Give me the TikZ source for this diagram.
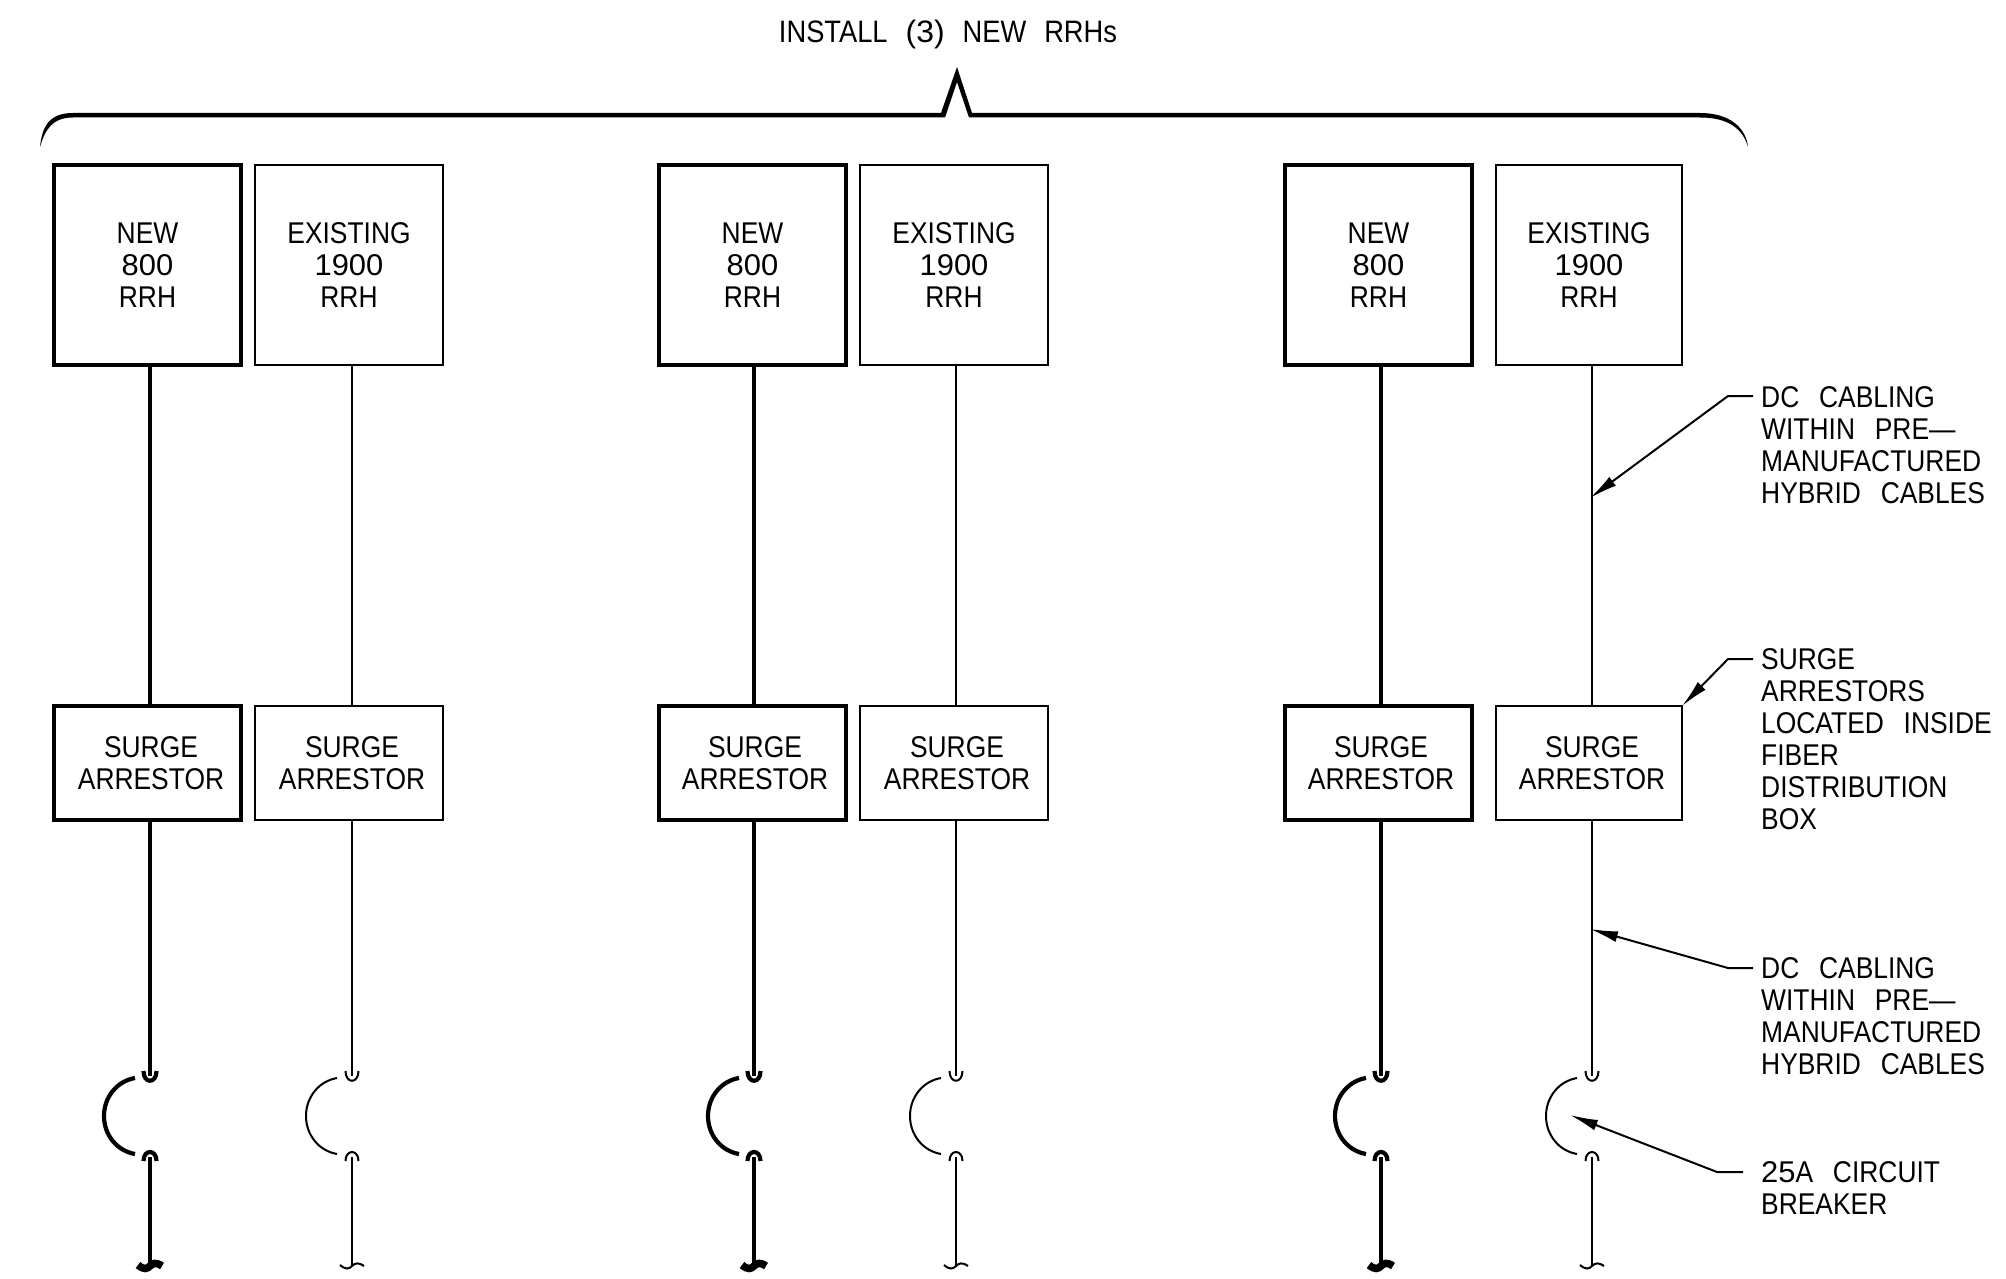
\documentclass[tikz,border=0pt]{standalone}
\usepackage{fontspec}
\setmainfont[FakeStretch=0.88,WordSpace=2.7]{Liberation Sans}
\newfontfamily\digs[FakeStretch=1.03,WordSpace=2.7]{Liberation Sans}
\usetikzlibrary{arrows.meta}
\tikzset{
  thinw/.style={line width=2pt},
  thickw/.style={line width=4.2pt},
  thinwbrk/.style={line width=2pt},
  thickwbrk/.style={line width=7.5pt},
  rrhbox/.style={draw,rectangle,outer sep=0pt,inner sep=0pt,minimum height=200pt,align=center},
  surgebox/.style={draw,rectangle,outer sep=0pt,inner sep=0pt,minimum height=114pt},
  boxtext/.style={align=center,inner sep=0pt,font=\fontsize{30}{32}\selectfont},
  note/.style={anchor=west,align=left,inner sep=0pt,font=\fontsize{30}{32}\selectfont},
  leader/.style={line width=2pt,-{Latex[length=28pt,width=11pt]}},
}
\begin{document}
\begin{tikzpicture}[x=1pt,y=-1pt,font=\fontsize{30}{32}\selectfont]
\useasboundingbox (0,0) rectangle (2006,1279);
% brace
\fill (40,147) .. controls (42,128) and (48,113) .. (73,113)
  -- (941,113) -- (957,67) -- (972,113) -- (1700,113)
  .. controls (1730,113) and (1746,128) .. (1748,147)
  .. controls (1743,130) and (1730,117.5) .. (1700,117.5)
  -- (969,117.5) -- (957,82) -- (945,117.5) -- (73,117.5)
  .. controls (52,117.5) and (45,130) .. (40,147) -- cycle;
\node[boxtext,font=\fontsize{31}{32}\selectfont] (title) at (948,34) {\spaceskip=18pt INSTALL {\digs(3)} NEW RRHs};
\foreach \n/\bl/\br/\lx/\tx/\wst/\toplabel in {
  a/54/241/150/151/thickw/{NEW\\{\digs 800}\\RRH},
  b/255/443/352/352/thinw/{EXISTING\\{\digs 1900}\\RRH},
  c/659/846/754/755/thickw/{NEW\\{\digs 800}\\RRH},
  d/860/1048/956/957/thinw/{EXISTING\\{\digs 1900}\\RRH},
  e/1285/1472/1381/1381/thickw/{NEW\\{\digs 800}\\RRH},
  f/1496/1682/1592/1592/thinw/{EXISTING\\{\digs 1900}\\RRH}}{
  \pgfmathsetmacro{\cx}{(\bl+\br)/2}
  \pgfmathsetmacro{\bw}{\br-\bl}
  \node[rrhbox,\wst,minimum width=\bw pt,font=\fontsize{30}{32}\selectfont] (rrh\n) at (\cx,265) {\toplabel};
  \node[surgebox,\wst,minimum width=\bw pt] (sg\n) at (\cx,763) {};
  \node[boxtext] (sgt\n) at (\tx,763) {SURGE\\ARRESTOR};
  \coordinate (up\n) at (\lx,1076);
  \coordinate (lo\n) at (\lx,1157);
  \coordinate (end\n) at (\lx,1266);
  \draw[\wst] (rrh\n.south -| up\n) -- (sg\n.north -| up\n);
  \draw[\wst] (sg\n.south -| up\n) -- (up\n);
  \draw[\wst] (lo\n) -- (end\n);
  % terminals
  \draw[\wst] (\lx-6.5,1071) .. controls (\lx-6.5,1084) and (\lx+6.5,1084) .. (\lx+6.5,1071);
  \draw[\wst] (\lx-6.5,1161) .. controls (\lx-6.5,1149) and (\lx+6.5,1149) .. (\lx+6.5,1161);
  % breaker arc
  \draw[\wst] (\lx-15,1078) .. controls (\lx-33.4,1081.2) and (\lx-46,1097.3) .. (\lx-46,1116)
    .. controls (\lx-46,1134.7) and (\lx-33.4,1150.8) .. (\lx-15,1154);
  % break mark
  \draw[\wst brk] (\lx-12,1265) .. controls (\lx-6,1270) and (\lx-3,1269) .. (\lx,1266)
    .. controls (\lx+3,1263) and (\lx+6,1262) .. (\lx+12,1266);
}
% callouts
\node[note] (n1) at (1761,445) {DC CABLING\\WITHIN PRE—\\MANUFACTURED\\HYBRID CABLES};
\node[note] (n2) at (1761,739) {SURGE\\ARRESTORS\\LOCATED INSIDE\\FIBER\\DISTRIBUTION\\BOX};
\node[note] (n3) at (1761,1016) {DC CABLING\\WITHIN PRE—\\MANUFACTURED\\HYBRID CABLES};
\node[note] (n4) at (1761,1188) {{\digs 25}A CIRCUIT\\BREAKER};
\coordinate (t1) at (1590,498);
\coordinate (t2) at (sgf.north east);
\coordinate (t3) at (1590,929);
\coordinate (t4) at (1570,1115);
\draw[leader] (1753,396) -- (1728,396) -- (t1);
\draw[leader] (1753,659) -- (1728,659) -- (t2);
\draw[leader] (1753,968) -- (1728,968) -- (t3);
\draw[leader] (1743,1172) -- (1717,1172) -- (t4);
\end{tikzpicture}
\end{document}
